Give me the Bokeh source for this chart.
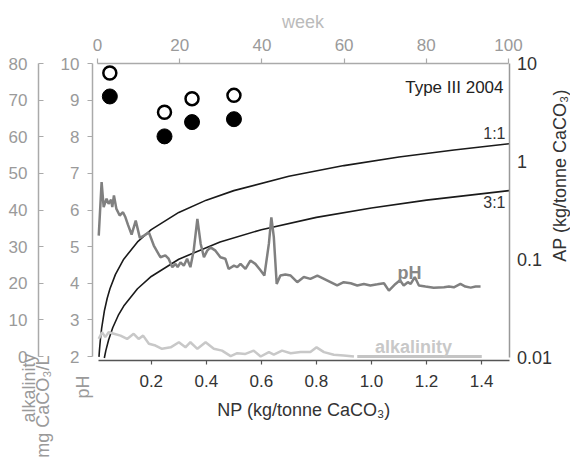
import math
from bokeh.plotting import figure
from bokeh.models import (LinearAxis, LogAxis, Range1d, LogScale, FixedTicker,
                          PrintfTickFormatter, CustomJSTickFormatter, Label)
from bokeh.embed import file_html
from bokeh.resources import INLINE

FONT = "Liberation Sans"

# ---------------- data ----------------
ph_week = [0.3, 1.0, 1.5, 2.2, 2.7, 3.3, 3.6, 4.0, 4.6, 5.4,
           6.2, 6.8, 7.4, 8.3, 9.3, 10.3, 11.3, 12.5, 13.7, 15.3,
           16.5, 17.3, 18.2, 19.0, 19.5, 20.2, 21.0, 21.8, 22.6, 23.4,
           24.3, 25.1, 25.9, 26.7, 27.5, 28.7, 29.9, 31.1, 31.9, 33.2,
           34.0, 34.8, 36.0, 37.2, 38.4, 39.7, 40.6, 41.7, 42.3, 42.9,
           43.6, 44.5, 45.7, 47.0, 48.6, 50.2, 51.8, 53.5, 55.1, 56.7,
           58.3, 59.9, 61.6, 63.2, 64.8, 66.4, 68.1, 69.7, 70.9, 72.5,
           73.6, 74.5, 75.5, 76.2, 77.2, 78.2, 79.8, 81.8, 84.3, 85.5,
           86.7, 88.3, 89.5, 90.8, 92.0, 93.2]
ph_value = [5.30, 6.76, 6.08, 6.31, 6.17, 6.28, 6.08, 6.40, 6.03, 5.85,
            5.94, 5.80, 5.60, 5.33, 5.71, 5.24, 5.30, 5.39, 5.03, 4.71,
            4.76, 4.67, 4.44, 4.53, 4.44, 4.57, 4.48, 4.67, 4.44, 4.89,
            5.76, 5.08, 4.71, 4.89, 4.98, 4.89, 4.71, 4.67, 4.39, 4.48,
            4.44, 4.53, 4.39, 4.62, 4.53, 4.35, 4.21, 5.08, 5.80, 5.26,
            3.98, 4.21, 4.24, 4.21, 4.03, 4.17, 4.12, 4.21, 4.12, 4.03,
            3.94, 4.03, 4.00, 3.94, 3.98, 3.94, 3.97, 4.00, 3.80, 3.98,
            4.08, 3.94, 4.03, 3.98, 4.17, 3.94, 3.91, 3.88, 3.89, 3.91,
            3.89, 3.98, 3.91, 3.88, 3.91, 3.91]

alk_week = [0.3, 1.1, 1.9, 2.7, 4.0, 5.6, 7.2, 8.8, 10.0, 11.1,
            12.5, 14.1, 15.7, 17.8, 19.8, 21.4, 22.6, 24.3, 26.3, 28.3,
            30.3, 32.4, 34.0, 36.0, 38.0, 39.7, 41.7, 42.9, 44.9, 47.0,
            49.4, 51.8, 53.3, 55.1, 57.5, 59.9, 62.4]
alk_value = [4.8, 6.6, 5.3, 6.6, 6.2, 5.7, 4.8, 6.2, 4.8, 5.7,
             3.5, 3.0, 2.1, 2.5, 3.9, 2.5, 3.9, 2.1, 3.9, 2.1,
             1.6, 0.1, 0.9, 0.7, 1.6, 0.0, 1.2, 0.5, 1.6, 0.9,
             1.2, 1.2, 2.5, 1.2, 0.5, 0.3, 0.0]
alk_late_week = [63.2, 93.5]
alk_late_value = [0.0, 0.0]

point_week = [3.0, 16.3, 23.0, 33.2]
paste_ph_filled = [9.10, 8.01, 8.40, 8.48]
paste_ph_open = [9.74, 8.67, 9.04, 9.13]

np_1to1 = [0.0101, 0.012, 0.015, 0.02, 0.03, 0.04, 0.05, 0.07, 0.1, 0.15,
           0.2, 0.3, 0.4, 0.5, 0.7, 0.9, 1.1, 1.3, 1.5]
ap_1to1 = [0.0101, 0.012, 0.015, 0.02, 0.03, 0.04, 0.05, 0.07, 0.1, 0.15,
           0.2, 0.3, 0.4, 0.5, 0.7, 0.9, 1.1, 1.3, 1.5]
np_3to1 = [0.0295, 0.035, 0.045, 0.06, 0.08, 0.1, 0.15, 0.2, 0.3, 0.45,
           0.6, 0.8, 1.0, 1.2, 1.5]
ap_3to1 = [0.00983, 0.0117, 0.015, 0.02, 0.0267, 0.0333, 0.05, 0.0667, 0.1, 0.15,
           0.2, 0.267, 0.333, 0.4, 0.5]

np_ticks = [0.2, 0.4, 0.6, 0.8, 1.0, 1.2, 1.4]
week_ticks = [0, 20, 40, 60, 80, 100]
ph_ticks = [2, 3, 4, 5, 6, 7, 8, 9, 10]
alk_ticks = [0, 10, 20, 30, 40, 50, 60, 70, 80]
ap_ticks = [0.01, 0.1, 1, 10]

# ---------------- layout constants (pixels) ----------------
W, H = 570, 468
NP0_PX, NP_PX = 95.7, 275.25        # x pixel of NP=0, px per NP unit
WK0_PX, WK_PX = 97.0, 4.11          # x pixel of week 0, px per week
PH2_PY, PH_PX = 356.0, 36.625       # y pixel of pH 2, px per pH unit
AP1_PY, AP_PX = 356.8, 98.1         # y pixel of AP 0.01, px per decade


def np_at(px):
    return (px - NP0_PX) / NP_PX


def wk_at(px):
    return (px - WK0_PX) / WK_PX


def ph_at(py):
    return 2 + (PH2_PY - py) / PH_PX


def ap_at(py):
    return 10 ** (-2 + (AP1_PY - py) / AP_PX)


p = figure(width=W, height=H, output_backend="svg", toolbar_location=None,
           x_range=Range1d(np_at(0), np_at(W)), y_range=Range1d(ph_at(H), ph_at(0)),
           x_axis_location=None, y_axis_location=None,
           min_border_left=0, min_border_right=0, min_border_top=0, min_border_bottom=0)
p.outline_line_color = None
p.background_fill_color = "white"
p.border_fill_color = "white"
p.xgrid.visible = False
p.ygrid.visible = False

p.extra_x_ranges = {"week": Range1d(wk_at(0), wk_at(W))}
p.extra_y_ranges = {"alk": Range1d((ph_at(H) - 2) * 10, (ph_at(0) - 2) * 10),
                    "ap": Range1d(ap_at(H), ap_at(0))}
p.extra_y_scales = {"ap": LogScale()}


def style(ax, line_col, lab_col, size="17px"):
    ax.axis_line_color = line_col
    ax.axis_line_width = 1.5
    ax.major_tick_line_color = line_col
    ax.major_tick_line_width = 1.2
    ax.minor_tick_line_color = None
    ax.major_label_text_color = lab_col
    ax.major_label_text_font = FONT
    ax.major_label_text_font_size = size
    ax.axis_label_text_font = FONT
    ax.axis_label_text_font_style = "normal"


# pH axis (detached, left)
ph_axis = LinearAxis(ticker=FixedTicker(ticks=ph_ticks), fixed_location=np_at(92),
                     bounds=(2, 10))
style(ph_axis, "#aaaaaa", "#9a9a9a")
ph_axis.major_tick_out = 5
ph_axis.major_tick_in = 0
ph_axis.major_label_standoff = 8
p.add_layout(ph_axis, "left")

# alkalinity axis (far left)
alk_axis = LinearAxis(y_range_name="alk", ticker=FixedTicker(ticks=alk_ticks),
                      fixed_location=np_at(38), bounds=(0, 80))
style(alk_axis, "#aaaaaa", "#9a9a9a")
alk_axis.major_tick_out = 0
alk_axis.major_tick_in = 5
alk_axis.major_label_standoff = 11
p.add_layout(alk_axis, "left")

# NP axis (bottom)
np_axis = LinearAxis(ticker=FixedTicker(ticks=np_ticks),
                     formatter=PrintfTickFormatter(format="%.1f"),
                     axis_label="NP (kg/tonne CaCO\u2083)",
                     fixed_location=ph_at(359.5), bounds=(np_at(98), np_at(508.5)))
style(np_axis, "#555555", "#333333")
np_axis.major_tick_out = 4
np_axis.major_tick_in = 0
np_axis.major_label_standoff = 11
np_axis.axis_label_text_font_size = "18px"
np_axis.axis_label_text_color = "#333333"
np_axis.axis_label_standoff = 9
p.add_layout(np_axis, "below")

# week axis (top)
wk_axis = LinearAxis(x_range_name="week", ticker=FixedTicker(ticks=week_ticks),
                     axis_label="week", fixed_location=ph_at(62.5), bounds=(0, 100))
style(wk_axis, "#aaaaaa", "#9a9a9a")
wk_axis.major_tick_out = 5
wk_axis.major_tick_in = 0
wk_axis.major_label_standoff = 7
wk_axis.axis_label_text_font_size = "18px"
wk_axis.axis_label_text_color = "#bbbbbb"
wk_axis.axis_label_standoff = 5
p.add_layout(wk_axis, "above")

# AP axis (right, log)
ap_axis = LogAxis(y_range_name="ap", ticker=FixedTicker(ticks=ap_ticks),
                  formatter=CustomJSTickFormatter(code="return tick.toString();"),
                  fixed_location=np_at(508.5), bounds=(0.01, 10))
style(ap_axis, "#999999", "#333333", "18px")
ap_axis.major_tick_out = 0
ap_axis.major_tick_in = 0
ap_axis.major_label_standoff = 8
p.add_layout(ap_axis, "right")

# ---------------- glyphs ----------------
p.line(np_1to1, ap_1to1, y_range_name="ap", line_color="#1a1a1a", line_width=1.6)
p.line(np_3to1, ap_3to1, y_range_name="ap", line_color="#1a1a1a", line_width=1.6)

p.line(alk_week, alk_value, x_range_name="week", y_range_name="alk",
       line_color="#c8c8c8", line_width=2.5)
p.line(alk_late_week, alk_late_value, x_range_name="week", y_range_name="alk",
       line_color="#c4c4c4", line_width=3)
p.line(ph_week, ph_value, x_range_name="week", line_color="#808080", line_width=2.5)

p.scatter(point_week, paste_ph_filled, x_range_name="week", size=15,
          fill_color="black", line_color="black")
p.scatter(point_week, paste_ph_open, x_range_name="week", size=13,
          fill_color="white", line_color="black", line_width=2.5)

# ---------------- annotations ----------------
def label(text, px, py, size, color, align="center", baseline="middle",
          bold=False, angle=0.0):
    p.add_layout(Label(x=np_at(px), y=ph_at(py), text=text, text_align=align,
                       text_baseline=baseline, text_font=FONT, text_font_size=size,
                       text_font_style="bold" if bold else "normal",
                       text_color=color, angle=angle))


label("Type III 2004", 503, 86.5, "17px", "#222222", align="right", baseline="alphabetic")
label("1:1", 505, 133, "16px", "#333333", align="right")
label("3:1", 505, 202, "16px", "#333333", align="right")
label("pH", 409, 272, "18px", "#888888", baseline="alphabetic", bold=True)
label("alkalinity", 413, 346.7, "18px", "#c8c8c8", baseline="alphabetic", bold=True)

# rotated axis titles
label("AP (kg/tonne CaCO\u2083)", 559, 175, "18px", "#333333", angle=math.pi / 2)
label("alkalinity", 28, 353, "18px", "#9a9a9a", align="right", angle=math.pi / 2)
label("mg CaCO\u2083/L", 42.5, 355, "18px", "#9a9a9a", align="right", angle=math.pi / 2)
label("pH", 82, 375, "18px", "#9a9a9a", align="right", angle=math.pi / 2)

open("out.html", "w").write(file_html(p, INLINE))
